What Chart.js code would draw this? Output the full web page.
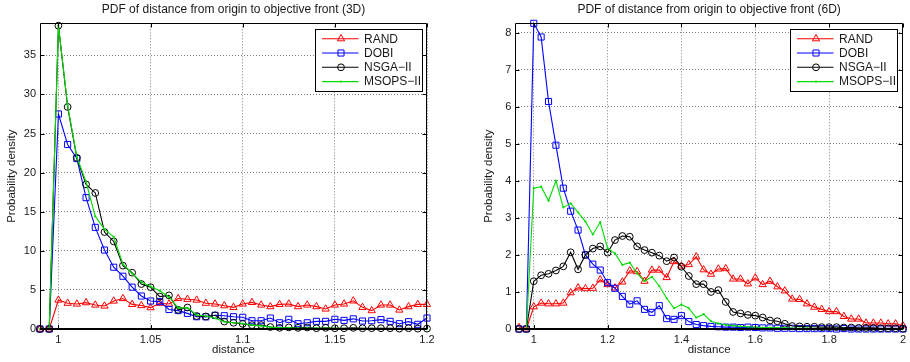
<!DOCTYPE html>
<html><head><meta charset="utf-8">
<script src="https://cdn.jsdelivr.net/npm/chart.js@4.4.1/dist/chart.umd.min.js"></script>
<style>
html,body{margin:0;padding:0;background:#fff;}
#wrap{position:relative;width:910px;height:362px;overflow:hidden;}
canvas{position:absolute;top:0;}
</style></head><body>
<div id="wrap">
<canvas id="c3d" width="455" height="362" style="left:0"></canvas>
<canvas id="c6d" width="455" height="362" style="left:455px"></canvas>
</div>
<script>
// ---------------- data ----------------
const SERIES_NAMES = ['RAND', 'DOBI', 'NSGA\u2212II', 'MSOPS\u2212II'];

// 3D panel
const X3 = [0.99,0.995,1.0,1.005,1.01,1.015,1.02,1.025,1.03,1.035,1.04,1.045,1.05,1.055,1.06,1.065,1.07,1.075,1.08,1.085,1.09,1.095,1.1,1.105,1.11,1.115,1.12,1.125,1.13,1.135,1.14,1.145,1.15,1.155,1.16,1.165,1.17,1.175,1.18,1.185,1.19,1.195,1.2];
const RAND3 = [0,0,3.7,3.3,3.2,3.37,3.07,2.94,3.58,3.9,3.15,3.0,2.73,3.3,3.2,3.9,3.8,3.7,3.3,3.2,2.98,2.77,3.2,3.4,3.07,2.86,3.15,3.2,2.86,3.07,2.86,2.56,3.07,3.2,3.6,2.77,2.35,3.07,3.07,2.43,2.86,3.15,3.15];
const DOBI3 = [0,0,27.5,23.6,21.8,16.8,13.0,10.1,7.9,6.75,5.35,4.22,3.58,3.5,2.5,2.35,2.0,1.57,1.55,1.75,1.7,1.57,1.5,1.06,1.06,1.4,0.8,1.24,0.68,0.8,0.98,0.98,1.24,1.1,1.3,1.02,1.06,1.2,0.98,0.68,0.94,0.6,1.4];
const NSGA3 = [0,0,38.8,28.4,21.9,18.5,17.4,12.4,11.2,8.1,7.2,5.75,5.35,4.15,4.3,2.45,2.75,1.66,1.6,1.75,0.95,0.8,0.65,0.5,0.5,0.25,0.15,0.2,0.15,0.2,0.1,0.15,0.1,0.1,0.15,0.1,0.1,0.1,0.1,0.05,0.1,0.05,0.05];
const MSOPS3 = [0,0,38.8,28.6,22.0,18.8,14.4,12.75,11.8,8.3,7.1,6.0,5.45,4.9,4.1,2.7,2.7,1.8,1.66,1.37,0.93,0.8,0.7,0.5,0.4,0.25,0.15,0.15,0.1,0.1,0.1,0.08,0.08,0.05,0.05,0.05,0.05,0.05,0.03,0.03,0.03,0.02,0.02];
const X3_TICKS = [1, 1.05, 1.1, 1.15, 1.2];
const X3_LABELS = ['1', '1.05', '1.1', '1.15', '1.2'];
const Y3_TICKS = [0, 5, 10, 15, 20, 25, 30, 35];
const Y3_LABELS = ['0', '5', '10', '15', '20', '25', '30', '35'];

// 6D panel
const X6 = [0.96,0.98,1.0,1.02,1.04,1.06,1.08,1.1,1.12,1.14,1.16,1.18,1.2,1.22,1.24,1.26,1.28,1.3,1.32,1.34,1.36,1.38,1.4,1.42,1.44,1.46,1.48,1.5,1.52,1.54,1.56,1.58,1.6,1.62,1.64,1.66,1.68,1.7,1.72,1.74,1.76,1.78,1.8,1.82,1.84,1.86,1.88,1.9,1.92,1.94,1.96,1.98,2.0];
const RAND6 = [0.04,0,0.6,0.7,0.68,0.68,0.7,0.98,1.11,1.09,1.1,1.33,1.2,1.11,1.27,1.57,1.55,1.29,1.59,1.59,1.39,1.82,1.7,1.74,1.95,1.6,1.48,1.62,1.63,1.35,1.35,1.22,1.38,1.2,1.29,1.14,1.03,0.81,0.8,0.68,0.59,0.53,0.47,0.47,0.34,0.27,0.27,0.16,0.16,0.16,0.14,0.14,0.09];
const DOBI6 = [0,0,8.25,7.88,6.14,4.96,3.8,3.18,2.67,2.0,1.75,1.59,1.25,1.1,0.88,0.67,0.76,0.53,0.45,0.63,0.28,0.26,0.36,0.2,0.12,0.09,0.07,0.06,0.05,0.05,0.04,0.05,0.04,0.03,0.03,0.02,0.02,0.02,0.01,0.01,0.01,0.01,0.01,0,0.01,0,0,0,0,0,0,0,0];
const NSGA6 = [0,0,1.29,1.45,1.49,1.58,1.69,2.07,1.61,2.0,2.17,2.23,2.06,2.4,2.51,2.49,2.23,2.13,2.06,1.98,1.83,1.93,1.68,1.43,1.21,1.21,1.0,1.05,0.73,0.46,0.42,0.38,0.36,0.31,0.23,0.21,0.14,0.08,0.07,0.06,0.06,0.05,0.05,0.05,0.04,0.04,0.03,0.03,0.03,0.02,0.02,0.02,0.01];
const MSOPS6 = [0,0,3.8,3.84,3.46,4.0,3.28,3.39,3.15,2.9,2.55,2.88,2.18,2.04,1.73,1.79,1.5,1.29,1.41,1.16,0.83,0.56,0.66,0.56,0.31,0.4,0.21,0.15,0.11,0.09,0.07,0.06,0.05,0.04,0.04,0.03,0.03,0.02,0.02,0.02,0.01,0.01,0.01,0.01,0.01,0,0,0,0,0,0,0,0];
const X6_TICKS = [1, 1.2, 1.4, 1.6, 1.8, 2];
const X6_LABELS = ['1', '1.2', '1.4', '1.6', '1.8', '2'];
const Y6_TICKS = [0, 1, 2, 3, 4, 5, 6, 7, 8];
const Y6_LABELS = ['0', '1', '2', '3', '4', '5', '6', '7', '8'];

// ---------------- styling ----------------
const FONT = '"Liberation Sans", Arial, Helvetica, sans-serif';
const TEXT = '#1a1a1a';
const STYLES = [
  {color: '#ff0000', style: 'triangle', r: 4.2, order: 4},
  {color: '#0000ff', style: 'rect', r: 4.3, order: 3},
  {color: '#000000', style: 'circle', r: 3.4, order: 2},
  {color: '#00dd00', style: 'circle', r: 1.1, order: 1, filled: true}
];

function pts(xs, ys) { return xs.map((x, i) => ({x: x, y: ys[i]})); }

function drawMarker(ctx, style, x, y, r, color, filled) {
  ctx.save();
  ctx.strokeStyle = color; ctx.fillStyle = color; ctx.lineWidth = 1;
  ctx.beginPath();
  if (style === 'triangle') {
    for (let k = 0; k < 3; k++) {
      const a = k * 2 * Math.PI / 3;
      const px = x + Math.sin(a) * r, py = y - Math.cos(a) * r;
      if (k === 0) ctx.moveTo(px, py); else ctx.lineTo(px, py);
    }
    ctx.closePath();
  } else if (style === 'rect') {
    const s = Math.SQRT1_2 * r;
    ctx.rect(x - s, y - s, 2 * s, 2 * s);
  } else {
    ctx.arc(x, y, r, 0, 2 * Math.PI);
  }
  if (filled) ctx.fill(); else ctx.stroke();
  ctx.restore();
}

function framePlugin(title) {
  return {
    id: 'matlabFrame',
    afterDatasetsDraw(chart) {
      const {ctx, chartArea: a, scales} = chart;
      const L = Math.round(a.left) + 0.5, R = Math.round(a.right) - 0.5;
      const T = Math.round(a.top) + 0.5, B = Math.round(a.bottom);
      ctx.save();
      ctx.strokeStyle = '#000';
      ctx.lineWidth = 1;
      ctx.beginPath();
      const tl = 4;
      scales.x.ticks.forEach(t => {
        const px = Math.round(scales.x.getPixelForValue(t.value)) + 0.5;
        ctx.moveTo(px, B); ctx.lineTo(px, B - tl);
        ctx.moveTo(px, T); ctx.lineTo(px, T + tl);
      });
      scales.y.ticks.forEach(t => {
        const py = Math.round(scales.y.getPixelForValue(t.value)) + 0.5;
        ctx.moveTo(L, py); ctx.lineTo(L + tl, py);
        ctx.moveTo(R, py); ctx.lineTo(R - tl, py);
      });
      ctx.stroke();
      ctx.beginPath();
      ctx.moveTo(L, B); ctx.lineTo(L, T); ctx.lineTo(R, T); ctx.lineTo(R, B);
      ctx.stroke();
      ctx.lineWidth = 2.2;
      ctx.beginPath();
      ctx.moveTo(L - 0.5, B); ctx.lineTo(R + 0.5, B);
      ctx.stroke();
      ctx.restore();
    },
    afterDraw(chart) {
      const {ctx, chartArea: a} = chart;
      ctx.save();
      // title
      ctx.font = '12px ' + FONT;
      ctx.fillStyle = TEXT;
      ctx.textAlign = 'center';
      ctx.textBaseline = 'middle';
      ctx.fillText(title, (a.left + a.right) / 2, 10);
      // legend
      const w = 107, h = 62;
      const bx = Math.round(a.right - 5.5 - w) + 0.5, by = Math.round(a.top + 6) + 0.5;
      ctx.fillStyle = '#fff';
      ctx.fillRect(bx, by, w, h);
      ctx.strokeStyle = '#000';
      ctx.lineWidth = 1;
      ctx.strokeRect(bx, by, w, h);
      ctx.font = '12px ' + FONT;
      ctx.textAlign = 'left';
      chart.data.datasets.forEach((ds, i) => {
        const st = STYLES[i];
        const y = by + 9.2 + i * 14.3;
        ctx.strokeStyle = st.color;
        ctx.lineWidth = 1.1;
        ctx.beginPath();
        ctx.moveTo(bx + 6.5, y); ctx.lineTo(bx + 43, y);
        ctx.stroke();
        drawMarker(ctx, st.style, bx + 25.5, y, st.r, st.color, st.filled);
        ctx.fillStyle = TEXT;
        ctx.textBaseline = 'middle';
        ctx.fillText(ds.label, bx + 48.5, y + 0.5);
      });
      ctx.restore();
    }
  };
}

function makeChart(id, cfg) {
  const series = cfg.series;
  const datasets = series.map((ys, i) => {
    const st = STYLES[i];
    return {
      label: SERIES_NAMES[i],
      data: pts(cfg.xs, ys),
      borderColor: st.color,
      borderWidth: 1.1,
      pointStyle: st.style,
      pointRadius: st.r,
      pointBorderColor: st.color,
      pointBackgroundColor: st.filled ? st.color : 'rgba(0,0,0,0)',
      pointBorderWidth: st.filled ? 0 : 1,
      tension: 0,
      fill: false,
      clip: false,
      order: st.order
    };
  });
  return new Chart(document.getElementById(id), {
    type: 'line',
    data: {datasets: datasets},
    plugins: [framePlugin(cfg.title)],
    options: {
      responsive: false,
      animation: false,
      devicePixelRatio: 1,
      events: [],
      layout: {padding: cfg.padding},
      plugins: {legend: {display: false}, tooltip: {enabled: false}, title: {display: false}},
      scales: {
        x: {
          type: 'linear', min: cfg.xMin, max: cfg.xMax,
          afterBuildTicks: s => { s.ticks = cfg.xTicks.map(v => ({value: v})); },
          afterFit: s => { s.height = 33; },
          ticks: {autoSkip: false, maxRotation: 0, padding: 4, color: TEXT,
                  font: {family: FONT, size: 11}, callback: (v, i) => cfg.xLabels[i]},
          grid: {color: 'rgba(0,0,0,0.5)', lineWidth: 1, drawTicks: false},
          border: {display: false, dash: [1, 2]},
          title: {display: true, text: 'distance', color: TEXT,
                  font: {family: FONT, size: 11.5}, padding: {top: 0, bottom: 5}}
        },
        y: {
          type: 'linear', min: 0, max: cfg.yMax,
          afterBuildTicks: s => { s.ticks = cfg.yTicks.map(v => ({value: v})); },
          afterFit: s => { s.width = cfg.yAxisW; },
          ticks: {autoSkip: false, padding: 4, color: TEXT,
                  font: {family: FONT, size: 11}, callback: (v, i) => cfg.yLabels[i]},
          grid: {color: 'rgba(0,0,0,0.5)', lineWidth: 1, drawTicks: false},
          border: {display: false, dash: [1, 2]},
          title: {display: true, text: 'Probability density', color: TEXT,
                  font: {family: FONT, size: 11.5}, padding: {top: 5, bottom: 0}}
        }
      }
    }
  });
}

makeChart('c3d', {
  title: 'PDF of distance from origin to objective front (3D)',
  xs: X3, series: [RAND3, DOBI3, NSGA3, MSOPS3],
  xMin: 0.99, xMax: 1.2, yMax: 39.1,
  xTicks: X3_TICKS, xLabels: X3_LABELS, yTicks: Y3_TICKS, yLabels: Y3_LABELS,
  padding: {left: 0, top: 23.3, right: 28, bottom: 0}, yAxisW: 40
});
makeChart('c6d', {
  title: 'PDF of distance from origin to objective front (6D)',
  xs: X6, series: [RAND6, DOBI6, NSGA6, MSOPS6],
  xMin: 0.95, xMax: 2.0, yMax: 8.25,
  xTicks: X6_TICKS, xLabels: X6_LABELS, yTicks: Y6_TICKS, yLabels: Y6_LABELS,
  padding: {left: 22, top: 23.3, right: 7, bottom: 0}, yAxisW: 38.3
});
</script>
</body></html>
